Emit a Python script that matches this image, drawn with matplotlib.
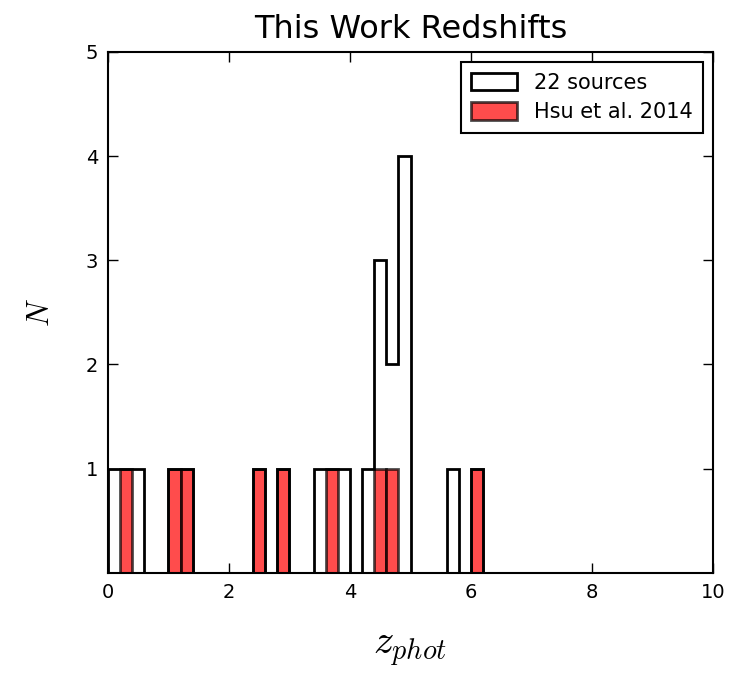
import numpy as np
import matplotlib
matplotlib.use("Agg")
import matplotlib.pyplot as plt

plt.rcParams['mathtext.fontset'] = 'cm'

# photometric redshifts (bin centres)
z_this_work = [0.1, 0.3, 0.5, 1.1, 1.3, 2.5, 2.9, 3.5, 3.7, 3.9, 4.3,
               4.5, 4.5, 4.5, 4.7, 4.7, 4.9, 4.9, 4.9, 4.9, 5.7, 6.1]
z_hsu = [0.3, 1.1, 1.3, 2.5, 2.9, 3.7, 4.5, 4.7, 6.1]
bin_width = 0.2
x_range = (0, 10)
y_range = (0, 5)
xticks = [0, 2, 4, 6, 8, 10]
yticks = [1, 2, 3, 4, 5]

bins = np.arange(x_range[0], x_range[1] + bin_width / 2, bin_width)

fig = plt.figure(figsize=(7.39, 6.74), dpi=100)
ax = fig.add_axes([0.146, 0.150, 0.819, 0.773])

ax.hist(z_this_work, bins=bins, histtype='step', color='black',
        linewidth=2, label='22 sources')
ax.hist(z_hsu, bins=bins, histtype='bar', color='red', alpha=0.7,
        edgecolor='black', linewidth=2, label='Hsu et al. 2014')

ax.set_xlim(*x_range)
ax.set_ylim(*y_range)
ax.set_xticks(xticks)
ax.set_yticks(yticks)
ax.tick_params(direction='in', top=True, right=True, length=7, width=1,
               labelsize=14, pad=7)
for s in ax.spines.values():
    s.set_linewidth(1.5)

ax.set_title('This Work Redshifts', fontsize=23, pad=10)
ax.set_xlabel('$z_{phot}$', fontsize=29, labelpad=20)
ax.set_ylabel('$N$', fontsize=22, labelpad=22)

leg = ax.legend(loc='upper right', fontsize=15, fancybox=False,
                framealpha=1, edgecolor='black', borderaxespad=0.5,
                handlelength=2.2, handleheight=0.9, borderpad=0.5,
                labelspacing=0.45)
leg.get_frame().set_linewidth(1.5)

fig.savefig('out.png', dpi=100, facecolor='white')
